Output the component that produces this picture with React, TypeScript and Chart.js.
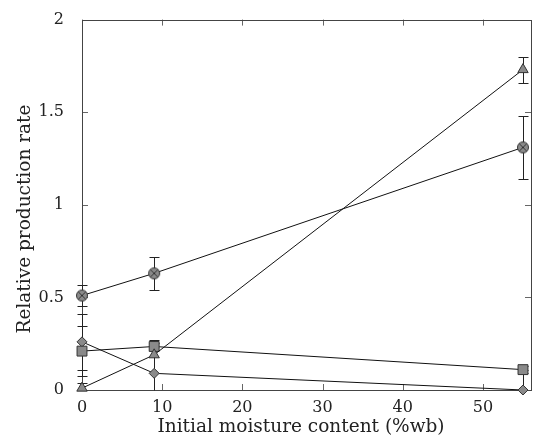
import React, { useEffect, useRef } from "react";
import { Chart, registerables } from "chart.js";
Chart.register(...registerables);

const moisture = [0, 9, 55];
const circleX = [0.51, 0.63, 1.31];
const circleXErr = [0.057, 0.09, 0.17];
const triangle = [0.01, 0.19, 1.73];
const triangleErr = [0.03, 0.0, 0.07];
const square = [0.21, 0.235, 0.11];
const squareErr = [0.135, 0.02, 0.02];
const diamond = [0.26, 0.09, 0.0];
const diamondErr = [0.15, 0.18, 0.11];
const xTicks = [0, 10, 20, 30, 40, 50];
const yTicks = [0, 0.5, 1, 1.5, 2];
const xTitle = "Initial moisture content (%wb)";
const yTitle = "Relative production rate";

const FONT = "'DejaVu Serif', serif";
const FILL = "#8a8a8a";
const EDGE = "#333333";

function circledX(): HTMLCanvasElement {
  const c = document.createElement("canvas");
  c.width = 14; c.height = 14;
  const g = c.getContext("2d")!;
  g.beginPath(); g.arc(7, 7, 5.5, 0, Math.PI * 2);
  g.fillStyle = FILL; g.fill();
  g.strokeStyle = EDGE; g.lineWidth = 1; g.stroke();
  const d = 5.5 * Math.SQRT1_2;
  g.beginPath();
  g.moveTo(7 - d, 7 - d); g.lineTo(7 + d, 7 + d);
  g.moveTo(7 + d, 7 - d); g.lineTo(7 - d, 7 + d);
  g.stroke();
  return c;
}

export default function App() {
  const ref = useRef<HTMLCanvasElement>(null);
  useEffect(() => {
    document.body.style.margin = "0";
    const errs = [circleXErr, triangleErr, squareErr, diamondErr];
    const errorBars = {
      id: "errorBars",
      beforeDatasetsDraw(chart: any) {
        const ctx = chart.ctx;
        const xs = chart.scales.x, ys = chart.scales.y;
        ctx.save();
        ctx.strokeStyle = "#222";
        ctx.lineWidth = 1;
        chart.data.datasets.forEach((ds: any, i: number) => {
          const e = errs[i];
          ds.data.forEach((p: any, j: number) => {
            if (!e[j]) return;
            const px = Math.round(xs.getPixelForValue(p.x)) + 0.5;
            const y1 = Math.round(ys.getPixelForValue(p.y + e[j])) + 0.5;
            const y2 = Math.round(ys.getPixelForValue(Math.max(p.y - e[j], ys.min))) + 0.5;
            ctx.beginPath();
            ctx.moveTo(px, y1); ctx.lineTo(px, y2);
            ctx.moveTo(px - 5, y1); ctx.lineTo(px + 5, y1);
            if (p.y - e[j] >= ys.min) { ctx.moveTo(px - 5, y2); ctx.lineTo(px + 5, y2); }
            ctx.stroke();
          });
        });
        ctx.restore();
      },
    };
    const frame = {
      id: "frame",
      beforeDatasetsDraw(chart: any) {
        const ctx = chart.ctx;
        const a = chart.chartArea;
        const xs = chart.scales.x, ys = chart.scales.y;
        ctx.save();
        ctx.strokeStyle = "#666";
        ctx.lineWidth = 1;
        ctx.beginPath();
        for (const v of xTicks) {
          const px = Math.round(xs.getPixelForValue(v)) + 0.5;
          ctx.moveTo(px, a.bottom); ctx.lineTo(px, a.bottom - 6);
          ctx.moveTo(px, a.top); ctx.lineTo(px, a.top + 6);
        }
        for (const v of yTicks) {
          const py = Math.round(ys.getPixelForValue(v)) + 0.5;
          ctx.moveTo(a.left, py); ctx.lineTo(a.left + 6, py);
          ctx.moveTo(a.right, py); ctx.lineTo(a.right - 6, py);
        }
        ctx.stroke();
        ctx.strokeStyle = "#444";
        ctx.strokeRect(Math.round(a.left) + 0.5, Math.round(a.top) + 0.5, Math.round(a.right - a.left), Math.round(a.bottom - a.top));
        ctx.fillStyle = "#222";
        ctx.font = `18.5px ${FONT}`;
        ctx.textAlign = "center";
        ctx.textBaseline = "middle";
        ctx.fillText(xTitle, 301, 427);
        ctx.translate(25, 219);
        ctx.rotate(-Math.PI / 2);
        ctx.fillText(yTitle, 0, 0);
        ctx.restore();
      },
    };
    const mk = (vals: number[]) => vals.map((y, i) => ({ x: moisture[i], y }));
    const base = { borderColor: "#111", borderWidth: 1, pointBackgroundColor: FILL, pointBorderColor: EDGE, pointBorderWidth: 1, showLine: true, clip: false as any };
    const chart = new Chart(ref.current!, {
      type: "scatter",
      data: {
        datasets: [
          { ...base, label: "a", data: mk(circleX), pointStyle: circledX() as any, pointRadius: 6 },
          { ...base, label: "b", data: mk(triangle), pointStyle: "triangle", pointRadius: 6 },
          { ...base, label: "c", data: mk(square), pointStyle: "rect", pointRadius: 7 },
          { ...base, label: "d", data: mk(diamond), pointStyle: "rectRot", pointRadius: 5 },
        ],
      },
      options: {
        animation: false,
        responsive: false,
        layout: { padding: { top: 16, right: 6, left: 0, bottom: 0 } },
        plugins: { legend: { display: false }, tooltip: { enabled: false } },
        scales: {
          x: {
            type: "linear", min: 0, max: 56,
            afterBuildTicks: (s: any) => { s.ticks = xTicks.map((v) => ({ value: v })); },
            afterFit: (s: any) => { s.height = 55; },
            grid: { display: false },
            border: { display: false },
            ticks: { color: "#222", font: { family: FONT, size: 16 }, padding: 0, maxRotation: 0 },
            title: { display: false, text: xTitle },
          },
          y: {
            type: "linear", min: 0, max: 2,
            afterBuildTicks: (s: any) => { s.ticks = yTicks.map((v) => ({ value: v })); },
            afterFit: (s: any) => { s.width = 82; },
            grid: { display: false },
            border: { display: false },
            ticks: { color: "#222", font: { family: FONT, size: 16 }, padding: 10, callback: (v: any) => String(v) },
            title: { display: false, text: yTitle },
          },
        },
      },
      plugins: [frame, errorBars],
    });
    return () => chart.destroy();
  }, []);
  return (
    <div style={{ position: "absolute", left: 0, top: 0, width: 539, height: 445 }}>
      <canvas ref={ref} width={539} height={445} />
    </div>
  );
}
